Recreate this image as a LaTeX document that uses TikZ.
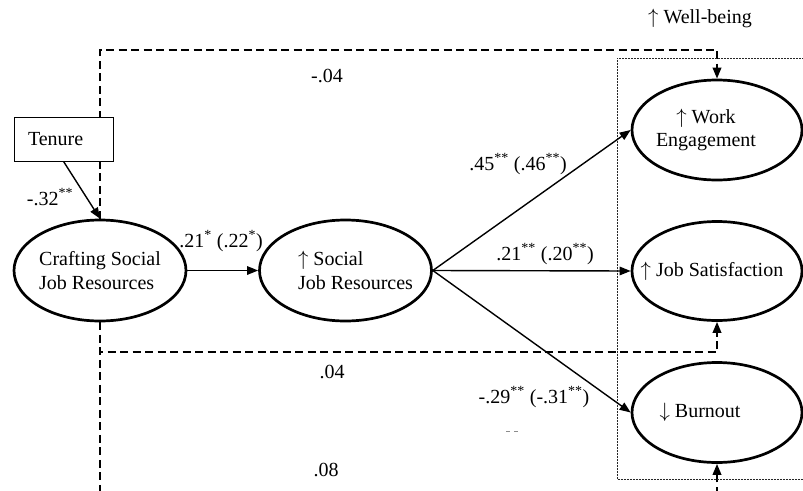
\documentclass[tikz,border=0pt]{standalone}
\usepackage{fontspec}
\setmainfont{Liberation Serif}
\usetikzlibrary{shapes.geometric,arrows.meta}

\newcommand{\up}{$\uparrow$}
\newcommand{\down}{$\downarrow$}

\begin{document}
\begin{tikzpicture}[x=1pt,y=-1pt,
  every node/.style={font=\fontsize{20}{23.5}\selectfont},
  latent/.style={ellipse, draw, line width=2.7pt, fill=white,
    minimum width=172, minimum height=101, inner sep=0},
  obsbox/.style={rectangle, draw, line width=0.8pt, fill=white,
    minimum width=99, minimum height=44, text width=71, align=left,
    inner xsep=14, inner ysep=0},
  causal/.style={line width=1.4pt, -{Triangle[length=11pt,width=8.5pt]}},
  ctrl/.style={line width=2pt, dash pattern=on 8pt off 4.5pt,
    -{Triangle[length=11pt,width=8.5pt]}},
  coef/.style={inner sep=0},
  txt/.style={align=left, inner sep=0}]

\useasboundingbox (0,0) rectangle (803,490);
\clip (0,0) rectangle (803,490);

% latent variables
\node[latent, label={[txt]center:{Crafting Social\\Job Resources}}] (craft) at (100,270.5) {};
\node[latent, label={[txt,xshift=10pt]center:{\up{} Social\\Job Resources}}] (soc) at (345.5,270.5) {};
\node[latent, minimum width=170, minimum height=100,
  label={[txt,align=center,xshift=-11pt]center:{\up{} Work\\Engagement}}] (we) at (717,130) {};
\node[latent, minimum width=170, minimum height=99,
  label={[txt,xshift=-5pt]center:{\up{} Job Satisfaction}}] (js) at (717,271) {};
\node[latent, minimum width=170, minimum height=100,
  label={[txt,xshift=-17pt]center:{\down{} Burnout}}] (bo) at (717,412.5) {};

% control paths of tenure (dashed)
\draw[ctrl] (craft.north) -- ++(0,-169) -| (we.north);
\draw[ctrl] (craft.south) -- ++(0,30) -| (js.south);
\draw[ctrl] (craft.south) -- ++(0,184) -| (bo.south);

% well-being outcomes frame
\draw[black!85, line width=0.8pt, dash pattern=on 0.8pt off 0.7pt]
  (617,58) rectangle (840,479);
\node[coef] (wb) at (700,18) {\up{} Well-being};

% observed covariate, drawn over the dashed line
\node[obsbox] (ten) at (63.5,139) {Tenure};

% structural paths
\draw[causal] (ten.south) -- (craft.north);
\draw[causal] (craft.east) -- (soc.west);
\draw[causal] (soc.east) -- (we.west);
\draw[causal] (soc.east) -- (js.west);
\draw[causal] (soc.east) -- (bo.west);

% coefficients
\node[coef] (c1) at (327,76) {-.04};
\node[coef] (c2) at (50,197) {-.32\textsuperscript{**}};
\node[coef] (c3) at (221,241) {.21\textsuperscript{*} (.22\textsuperscript{*})};
\node[coef] (c4) at (518,164) {.45\textsuperscript{**} (.46\textsuperscript{**})};
\node[coef] (c5) at (545,254) {.21\textsuperscript{**} (.20\textsuperscript{**})};
\node[coef] (c6) at (534,397) {-.29\textsuperscript{**} (-.31\textsuperscript{**})};
\node[coef] (c7) at (332,372) {.04};
\node[coef] (c8) at (326,470) {.08};

% leftover marks below the burnout coefficient
\fill[black!45] (506,430.5) rectangle (510,432);
\fill[black!45] (514,430.5) rectangle (518,432);

\end{tikzpicture}
\end{document}
